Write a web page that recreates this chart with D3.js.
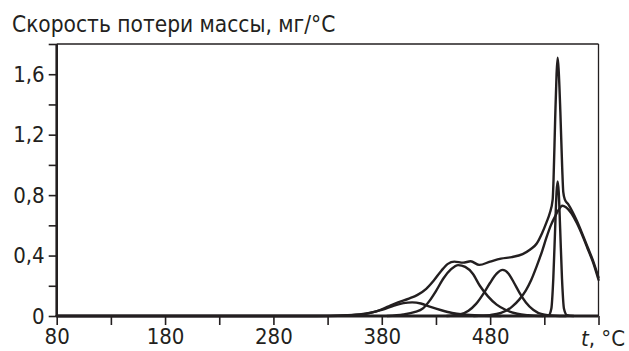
<!DOCTYPE html>
<html><head><meta charset="utf-8">
<script src="https://cdn.jsdelivr.net/npm/d3@7/dist/d3.min.js"></script>
<style>
html,body{margin:0;padding:0;background:#fff;}
svg{display:block;}
text{font-family:"DejaVu Sans Condensed","DejaVu Sans",sans-serif;font-stretch:condensed;fill:#231f20;}
</style></head>
<body><svg id="c" width="629" height="351"></svg>
<script>
// ---- data ----
const title = "Скорость потери массы, мг/°С";
const xTicks = [80,130,180,230,280,330,380,430,480,530,580];
const xLabels = [80,180,280,380,480];
const yTicks = [0,0.2,0.4,0.6,0.8,1.0,1.2,1.4,1.6,1.8];
const yLabels = [0,0.4,0.8,1.2,1.6];

const totalT = [80,320,345,363,375,385,395,405,413,421,428,435,441,447,455,462,470,480,490,500,510,517,523,528,532,535,537.7,538.5,540,541.3,542.3,543.3,544.8,546.5,547.5,549,552,556,560,565,570,575,580];
const totalV = [0,0,0.004,0.012,0.03,0.06,0.09,0.115,0.14,0.18,0.235,0.30,0.345,0.36,0.353,0.362,0.338,0.36,0.38,0.39,0.41,0.44,0.48,0.55,0.62,0.68,0.77,0.9,1.3,1.6,1.71,1.62,1.35,0.98,0.82,0.77,0.74,0.69,0.63,0.545,0.455,0.365,0.255];

const aT = [80,330,350,365,380,392,400,408,416,425,435,445,455,470,490];
const aV = [0,0,0.005,0.015,0.04,0.07,0.085,0.09,0.083,0.06,0.038,0.02,0.01,0.003,0];

const bT = [385,400,410,418,424,430,437,444,450.5,457,464,470.5,478,486,495,505,515,528];
const bV = [0,0.01,0.025,0.05,0.1,0.165,0.25,0.31,0.337,0.325,0.28,0.2,0.13,0.075,0.038,0.015,0.005,0];

const cT = [440,452,460,467,474,480,486,491.5,497,502,507,513,520,528,540,550];
const cV = [0,0.01,0.035,0.08,0.15,0.22,0.28,0.305,0.28,0.22,0.155,0.09,0.04,0.012,0.002,0];

const dT = [528,534,536.5,538.3,540,541.3,542.3,543.3,544.6,546.3,548.1,551,557];
const dV = [0,0.005,0.05,0.25,0.58,0.82,0.89,0.82,0.58,0.25,0.05,0.005,0];

const eT = [465,480,490,500,507,513,518,523,528,532,536,540,543,546.5,550,555,560,565,570,575,580];
const eV = [0,0.006,0.02,0.06,0.11,0.17,0.24,0.33,0.43,0.52,0.6,0.66,0.7,0.73,0.72,0.68,0.615,0.535,0.445,0.355,0.24];

const series = [[aT,aV],[bT,bV],[cT,cV],[eT,eV],[dT,dV],[totalT,totalV]];

// ---- layout ----
const ink = "#231f20";
const svg = d3.select("#c");
const L = 56.7, R = 598.5, T = 44, B = 316;
const x = d3.scaleLinear().domain([80,580]).range([L,R]);
const y = d3.scaleLinear().domain([0,1.8]).range([B,T]);

// frame top/right
svg.append("line").attr("x1",L).attr("x2",R).attr("y1",T).attr("y2",T).attr("stroke",ink).attr("stroke-width",1.3);
svg.append("line").attr("x1",R).attr("x2",R).attr("y1",T).attr("y2",B).attr("stroke",ink).attr("stroke-width",1.3);

const line = d3.line().x(d=>x(d[0])).y(d=>y(d[1])).curve(d3.curveMonotoneX);
series.forEach(([ts,vs])=>{
  svg.append("path").datum(ts.map((t,i)=>[t,vs[i]]))
    .attr("d",line).attr("fill","none").attr("stroke",ink)
    .attr("stroke-width",2.4).attr("stroke-linejoin","round").attr("stroke-linecap","round");
});

// axes
const xAxis = d3.axisBottom(x).tickValues(xTicks).tickSize(9)
  .tickFormat(d=>xLabels.includes(d)?String(d):"");
const gx = svg.append("g").attr("transform",`translate(0,${B})`).call(xAxis);
gx.select(".domain").attr("stroke",ink).attr("stroke-width",2.8).attr("d",`M${L},0H${R}`);
gx.selectAll(".tick line").attr("stroke",ink).attr("stroke-width",1.6);
gx.selectAll(".tick text").attr("font-size",22).attr("dy","0.71em").attr("y",12).style("fill",ink);

const fmt = d=>String(d).replace(".",",");
const yAxis = d3.axisLeft(y).tickValues(yTicks).tickSize(8)
  .tickFormat(d=>yLabels.some(v=>Math.abs(v-d)<1e-9)?fmt(d):"");
const gy = svg.append("g").attr("transform",`translate(${L},0)`).call(yAxis);
gy.select(".domain").attr("stroke",ink).attr("stroke-width",2.6).attr("d",`M0,${B}V${T}`);
gy.selectAll(".tick line").attr("stroke",ink).attr("stroke-width",1.6);
gy.selectAll(".tick text").attr("font-size",22).attr("x",-12).style("fill",ink);
gx.attr("font-family",null); gy.attr("font-family",null);

// labels
svg.append("text").attr("x",12).attr("y",31.5).attr("font-size",22.5).text(title);
const tl = svg.append("text").attr("x",581).attr("y",346).attr("font-size",22);
tl.append("tspan").attr("font-style","italic").text("t");
tl.append("tspan").text(", °C");
</script></body></html>
